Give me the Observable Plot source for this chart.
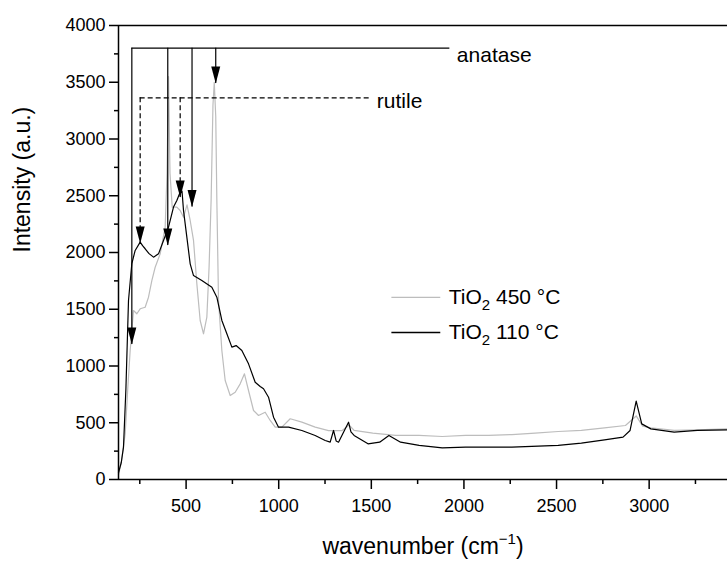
<!DOCTYPE html>
<html><head><meta charset="utf-8">
<script src="https://cdn.jsdelivr.net/npm/d3@7"></script>
<script src="https://cdn.jsdelivr.net/npm/@observablehq/plot@0.6"></script>
<style>body{margin:0;background:#fff}</style>
</head><body><div id="chart"></div>
<script>
// TiO2 110 °C (black)
const wn110 = [135,150,162,175,189,207,225,252,265,279,300,324,351,378,405,432,450,465,478,486,504,522,540,585,639,666,693,720,747,770,801,837,873,900,918,945,972,999,1053,1125,1197,1251,1278,1296,1310,1323,1377,1390,1407,1482,1545,1595,1658,1758,1883,2008,2259,2509,2634,2759,2859,2897,2930,2960,3009,3135,3260,3423];
const int110 = [60,150,285,800,1577,1903,2018,2091,2060,2033,1990,1959,1988,2106,2223,2400,2458,2520,2540,2370,2135,1900,1797,1753,1694,1606,1401,1284,1166,1180,1137,1019,857,820,799,725,549,461,461,432,388,344,329,432,340,329,505,420,388,314,329,388,329,300,279,285,285,300,320,349,373,432,690,490,446,417,432,438];
// TiO2 450 °C (grey)
const wn450 = [135,150,171,185,198,216,234,252,279,297,315,333,360,387,397,405,413,425,450,468,486,505,522,540,558,576,594,612,624,635,645,652,660,666,675,693,711,738,765,792,815,837,864,891,927,954,981,1017,1062,1125,1197,1269,1341,1380,1407,1508,1632,1758,1883,2008,2133,2259,2384,2509,2634,2759,2872,2930,2965,3009,3135,3260,3423];
const int450 = [40,150,402,800,1137,1489,1460,1504,1518,1606,1753,1870,1988,2223,2700,3550,2700,2400,2400,2370,2311,2420,2282,2106,1724,1401,1284,1430,1870,2458,3300,3500,3200,2458,1577,1137,872,740,769,843,931,784,608,564,593,520,461,461,535,505,461,430,430,480,432,408,388,388,379,388,388,396,408,423,432,455,476,560,470,455,432,438,446];

const xTicks = [500,1000,1500,2000,2500,3000];
const xMinor = [250,750,1250,1750,2250,2750,3250];
const yTicks = [0,500,1000,1500,2000,2500,3000,3500,4000];
const yMinor = [250,750,1250,1750,2250,2750,3250,3750];

// reference peak markers
const anataseX = [207,401,532,660];
const anataseTip = [1190,2062,2400,3489];
const rutileX = [252,468];
const rutileTip = [2080,2485];
const anataseLevel = 3800, anataseEnd = 1924;
const rutileLevel = 3363, rutileEnd = 1492;
const anataseLabel = "anatase", rutileLabel = "rutile";

// legend
const legendLabels = ["TiO2 450 °C","TiO2 110 °C"];
const legendColors = ["#bdbdbd","#000000"];
const legendY = [1604,1295];
const legendX1 = 1611, legendX2 = 1875, legendTextX = 1918;

const s110 = wn110.map((x,i)=>({x, y:int110[i]}));
const s450 = wn450.map((x,i)=>({x, y:int450[i]}));
const anatase = anataseX.map((x,i)=>({x, tip:anataseTip[i]}));
const rutile = rutileX.map((x,i)=>({x, tip:rutileTip[i]}));
const legend = legendLabels.map((l,i)=>({label:l, color:legendColors[i], y:legendY[i]}));

const head = {draw(ctx){ ctx.moveTo(0,0); ctx.lineTo(-4.5,-17); ctx.lineTo(4.5,-17); ctx.closePath(); }};

const chart = Plot.plot({
  width: 727, height: 564,
  marginLeft: 118, marginRight: 0, marginTop: 25, marginBottom: 85,
  x: {domain: [135, 3423]},
  y: {domain: [0, 4000]},
  style: {fontFamily: "'Liberation Sans', Arial, sans-serif", color: "black", background: "white"},
  marks: [
    Plot.axisY(yMinor, {tickSize: 4, tickFormat: () => "", label: null, strokeWidth: 1.5}),
    Plot.axisY(yTicks, {tickSize: 9, tickPadding: 4, fontSize: 18, tickFormat: d => String(d), label: null, strokeWidth: 1.5}),
    Plot.axisX(xMinor, {tickSize: 5, tickFormat: () => "", label: null, strokeWidth: 1.5}),
    Plot.axisX(xTicks, {tickSize: 10, tickPadding: 10, fontSize: 18, tickFormat: d => String(d), label: null, strokeWidth: 1.5}),
    Plot.line(s450, {x: "x", y: "y", stroke: "#bdbdbd", strokeWidth: 1.2}),
    Plot.line(s110, {x: "x", y: "y", stroke: "black", strokeWidth: 1.2}),
    // anatase markers
    Plot.ruleY([anataseLevel], {x1: anataseX[0], x2: anataseEnd, stroke: "black", strokeWidth: 1.2}),
    Plot.ruleX(anatase, {x: "x", y1: anataseLevel, y2: "tip", stroke: "black", strokeWidth: 1.2}),
    Plot.dot(anatase, {x: "x", y: "tip", symbol: head, fill: "black"}),
    Plot.text([anataseLabel], {x: anataseEnd, y: anataseLevel, dx: 7, dy: 7, textAnchor: "start", fontSize: 21}),
    // rutile markers
    Plot.ruleY([rutileLevel], {x1: rutileX[0], x2: rutileEnd, stroke: "black", strokeWidth: 1.2, strokeDasharray: "5,3"}),
    Plot.ruleX(rutile, {x: "x", y1: rutileLevel, y2: "tip", stroke: "black", strokeWidth: 1.2, strokeDasharray: "5,3"}),
    Plot.dot(rutile, {x: "x", y: "tip", symbol: head, fill: "black"}),
    Plot.text([rutileLabel], {x: rutileEnd, y: rutileLevel, dx: 7, dy: 3, textAnchor: "start", fontSize: 21}),
    // legend
    Plot.ruleY(legend, {y: "y", x1: legendX1, x2: legendX2, stroke: "color", strokeWidth: 1.3}),
    Plot.text(legend, {x: legendTextX, y: "y", text: "label", textAnchor: "start", fontSize: 21}),
    // frame
    Plot.ruleX([135], {strokeWidth: 1.5}),
    Plot.ruleY([0], {strokeWidth: 1.5}),
    Plot.ruleY([4000], {strokeWidth: 1.5}),
    // axis titles
    Plot.text(["wavenumber (cm-1)"], {frameAnchor: "bottom", dy: 74, fontSize: 23}),
    Plot.text(["Intensity (a.u.)"], {frameAnchor: "left", dx: -96, rotate: -90, fontSize: 23})
  ]
});
document.getElementById("chart").appendChild(chart);

// subscripts / superscripts
function rich(match, parts) {
  d3.select(chart).selectAll("text").each(function() {
    if (this.textContent === match) {
      const t = d3.select(this);
      t.text(null);
      parts.forEach(p => {
        const s = t.append("tspan").text(p.t);
        if (p.dy) s.attr("dy", p.dy);
        if (p.size) s.attr("font-size", p.size);
      });
    }
  });
}
rich("TiO2 450 °C", [{t:"TiO"},{t:"2", dy:6, size:15},{t:" 450 °C", dy:-6}]);
rich("TiO2 110 °C", [{t:"TiO"},{t:"2", dy:6, size:15},{t:" 110 °C", dy:-6}]);
rich("wavenumber (cm-1)", [{t:"wavenumber (cm"},{t:"\u22121", dy:-10, size:15},{t:")", dy:10}]);
</script>
</body></html>
